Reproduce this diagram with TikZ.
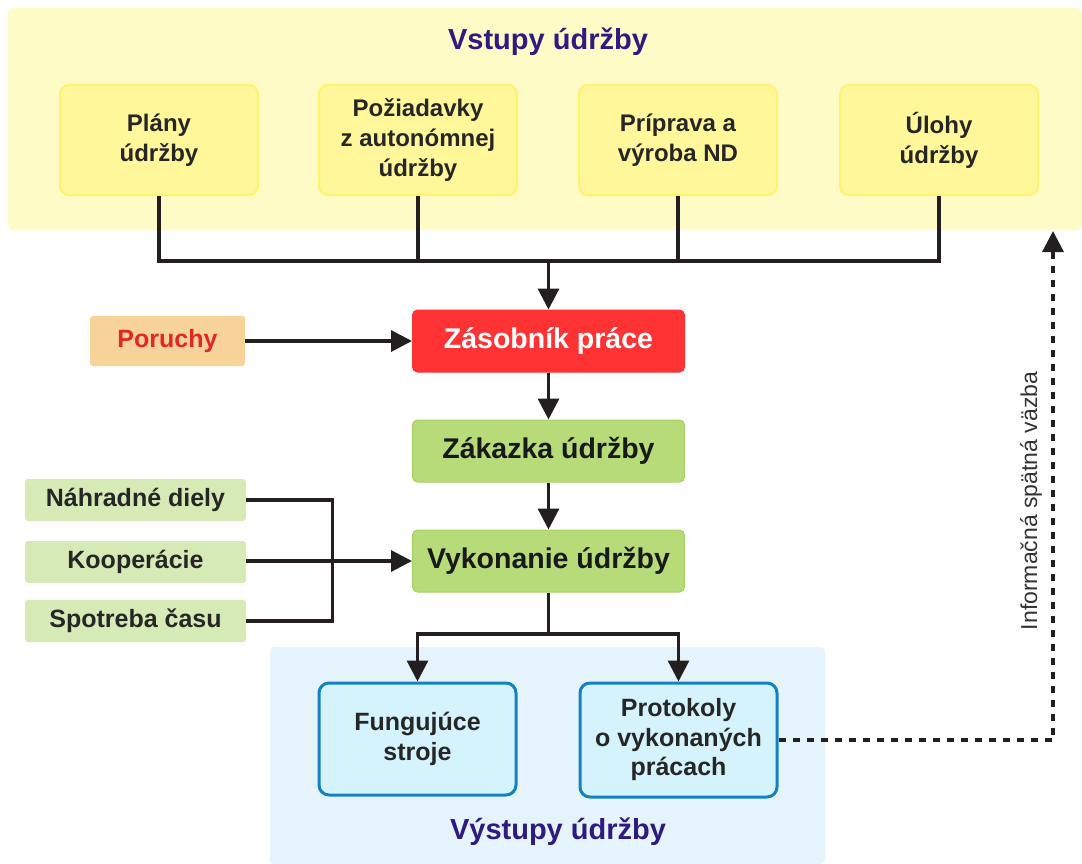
\documentclass[tikz,border=0pt]{standalone}
\usepackage{fontspec}
\setmainfont{Liberation Sans}
\usepackage{xcolor}
\definecolor{udtitle}{RGB}{46,26,128}
\definecolor{udinbg}{RGB}{255,251,198}
\definecolor{udyellow}{RGB}{255,247,153}
\definecolor{udyellowline}{RGB}{255,242,110}
\definecolor{udorange}{RGB}{248,211,153}
\definecolor{udred}{RGB}{255,51,51}
\definecolor{udredtext}{RGB}{227,38,38}
\definecolor{udgreen}{RGB}{182,219,120}
\definecolor{udgreenline}{RGB}{166,209,100}
\definecolor{udlgreen}{RGB}{214,234,182}
\definecolor{udoutbg}{RGB}{229,244,252}
\definecolor{udblue}{RGB}{212,243,253}
\definecolor{udblueline}{RGB}{21,129,197}
\definecolor{udwire}{RGB}{35,31,32}
\usetikzlibrary{arrows.meta,positioning}
\tikzset{
  wire/.style={draw=udwire, line width=3.2pt},
  arrow/.style={wire, -{Triangle[length=21pt,width=21pt]}},
  feedback/.style={wire, dash pattern=on 7pt off 7pt, -{Triangle[length=21pt,width=21pt]}},
  inbox/.style={draw=udyellowline, line width=2pt, fill=udyellow, rounded corners=9pt,
    minimum width=198pt, minimum height=110pt, align=center,
    font=\fontsize{24}{30}\selectfont\bfseries, text=black!85},
  flowbox/.style={draw=udgreenline, line width=1pt, fill=udgreen, rounded corners=5pt,
    minimum width=272pt, minimum height=62pt,
    font=\fontsize{28.5}{32}\selectfont\bfseries, text=black!90},
  sidebox/.style={fill=udlgreen, rounded corners=3pt,
    minimum width=221pt, minimum height=42pt,
    font=\fontsize{25}{30}\selectfont\bfseries, text=black!85},
  outbox/.style={draw=udblueline, line width=3pt, fill=udblue, rounded corners=10pt,
    minimum width=197pt, minimum height=112pt, align=center,
    font=\fontsize{25}{29.5}\selectfont\bfseries, text=black!85},
  grouptitle/.style={font=\fontsize{29}{34}\selectfont\bfseries, text=udtitle}
}
\begin{document}
\begin{tikzpicture}[x=1pt,y=-1pt]
  \useasboundingbox (0,0) rectangle (1082,864);
  % Backgrounds of the two groups
  \fill[udinbg, rounded corners=6pt] (8,8) rectangle (1082,230);
  \fill[udoutbg, rounded corners=4pt] (270,647) rectangle (825,864);
  \node[grouptitle] (intitle) at (548,42) {Vstupy údržby};
  \node[grouptitle] (outtitle) at (558,832) {Výstupy údržby};
  % Inputs
  \node[inbox] (plany) at (159,140) {Plány\\údržby};
  \node[inbox] (poziadavky) at (418,140) {Požiadavky\\z autonómnej\\údržby};
  \node[inbox] (priprava) at (678,140) {Príprava a\\výroba ND};
  \node[inbox] (ulohy) at (939,140) {Úlohy\\údržby};
  % Main flow
  \node[flowbox, fill=udred, draw=udred, text=white] (zasobnik) at (548.5,341) {Zásobník práce};
  \node[flowbox] (zakazka) at (548.5,451) {Zákazka údržby};
  \node[flowbox] (vykonanie) at (548.5,561) {Vykonanie údržby};
  \node[sidebox, fill=udorange, text=udredtext, minimum width=155pt, minimum height=50pt] (poruchy) at (167.5,341) {Poruchy};
  \node[sidebox] (nahradne) at (135.5,500) {Náhradné diely};
  \node[sidebox] (kooperacie) at (135.5,562) {Kooperácie};
  \node[sidebox] (spotreba) at (135.5,621) {Spotreba času};
  % Outputs
  \node[outbox] (fungujuce) at (417.5,739) {Fungujúce\\stroje};
  \node[outbox, minimum height=114pt] (protokoly) at (678.5,740) {Protokoly\\o vykonaných\\prácach};
  % Connectors
  \coordinate (join) at (548.5,261);
  \draw[wire] (plany.south) |- (join);
  \draw[wire] (ulohy.south) |- (join);
  \draw[wire] (poziadavky.south) -- (poziadavky.south |- join);
  \draw[wire] (priprava.south) -- (priprava.south |- join);
  \draw[arrow] (join) -- (zasobnik.north);
  \draw[arrow] (poruchy.east) -- (zasobnik.west);
  \draw[arrow] (zasobnik.south) -- (zakazka.north);
  \draw[arrow] (zakazka.south) -- (vykonanie.north);
  \draw[wire] (nahradne.east) -- ++(86,0) |- (spotreba.east);
  \draw[arrow] (kooperacie.east |- vykonanie.west) -- (vykonanie.west);
  \coordinate (split) at (548.5,634);
  \draw[wire] (vykonanie.south) -- (split);
  \draw[arrow] (split) -| (fungujuce.north);
  \draw[arrow] (split) -| (protokoly.north);
  % Feedback
  \coordinate (fb) at (1053,231);
  \draw[feedback] (protokoly.east) -| (fb);
  \node[rotate=90, font=\fontsize{23}{27}\selectfont, text=black!80] (fblabel) at (1031,501) {Informačná spätná väzba};
\end{tikzpicture}
\end{document}
